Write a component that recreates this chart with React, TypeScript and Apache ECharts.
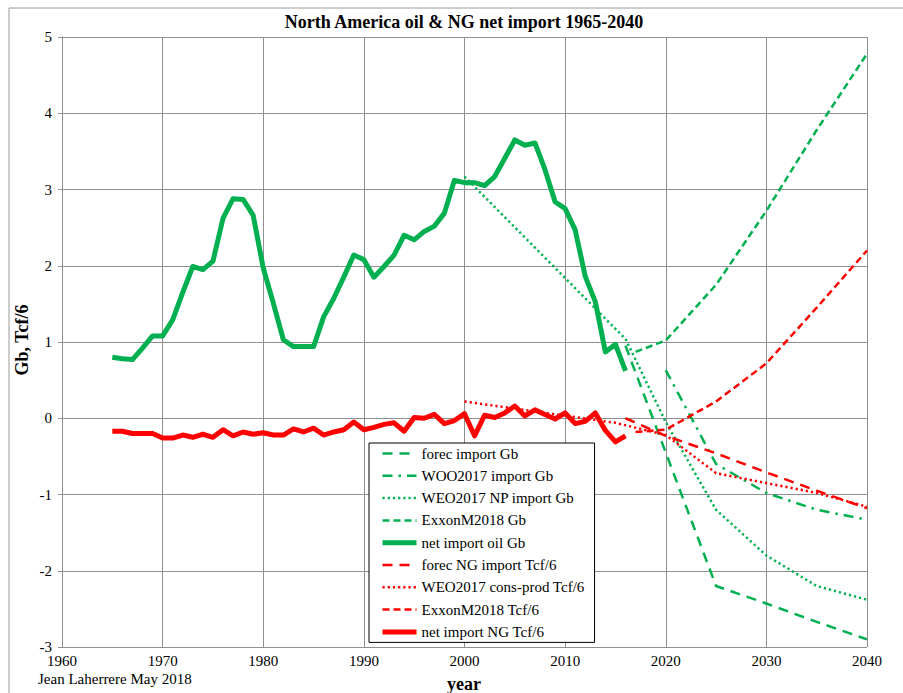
import React, { useEffect, useRef } from "react";
import * as echarts from "echarts";

const histYears = [
  1965, 1966, 1967, 1968, 1969, 1970, 1971, 1972, 1973, 1974, 1975, 1976, 1977,
  1978, 1979, 1980, 1981, 1982, 1983, 1984, 1985, 1986, 1987, 1988, 1989, 1990,
  1991, 1992, 1993, 1994, 1995, 1996, 1997, 1998, 1999, 2000, 2001, 2002, 2003,
  2004, 2005, 2006, 2007, 2008, 2009, 2010, 2011, 2012, 2013, 2014, 2015, 2016,
];
const netOilGb = [
  0.8, 0.78, 0.77, 0.92, 1.08, 1.08, 1.29, 1.65, 1.99, 1.95, 2.06, 2.62, 2.88,
  2.87, 2.66, 1.97, 1.51, 1.03, 0.94, 0.94, 0.94, 1.33, 1.57, 1.85, 2.14, 2.08,
  1.85, 1.99, 2.14, 2.4, 2.34, 2.45, 2.52, 2.69, 3.12, 3.09, 3.09, 3.05, 3.17,
  3.41, 3.65, 3.58, 3.61, 3.26, 2.84, 2.75, 2.47, 1.86, 1.53, 0.87, 0.97, 0.62,
];
const netNgTcf6 = [
  -0.17, -0.17, -0.2, -0.2, -0.2, -0.26, -0.26, -0.22, -0.25, -0.21, -0.25,
  -0.15, -0.23, -0.18, -0.21, -0.19, -0.22, -0.22, -0.14, -0.18, -0.13, -0.22,
  -0.18, -0.15, -0.05, -0.15, -0.12, -0.08, -0.06, -0.17, 0.01, 0.0, 0.05,
  -0.07, -0.03, 0.06, -0.23, 0.04, 0.01, 0.07, 0.16, 0.03, 0.11, 0.05, -0.01,
  0.07, -0.07, -0.04, 0.07, -0.16, -0.31, -0.23,
];

const forecOilYears = [2016, 2025, 2030, 2035, 2040];
const forecOilGb = [0.95, -2.2, -2.43, -2.67, -2.9];
const woo2017Years = [2020, 2025, 2030, 2035, 2040];
const woo2017Gb = [0.63, -0.6, -0.98, -1.2, -1.33];
const weo2017NpYears = [2000, 2016, 2020, 2025, 2030, 2035, 2040];
const weo2017NpGb = [3.17, 1.04, -0.05, -1.2, -1.8, -2.2, -2.38];
const exxonOilYears = [2017, 2020, 2025, 2030, 2035, 2040];
const exxonOilGb = [0.87, 1.02, 1.75, 2.72, 3.78, 4.78];
const forecNgYears = [2016, 2020, 2025, 2030, 2035, 2040];
const forecNgTcf6 = [0.0, -0.23, -0.46, -0.71, -0.95, -1.18];
const weoNgYears = [2000, 2015, 2020, 2025, 2030, 2035, 2040];
const weoNgTcf6 = [0.22, -0.06, -0.22, -0.72, -0.85, -0.98, -1.16];
const exxonNgYears = [2017, 2020, 2025, 2030, 2035, 2040];
const exxonNgTcf6 = [-0.18, -0.15, 0.22, 0.72, 1.45, 2.2];

const GREEN = "#00b050";
const RED = "#ff0000";
const FONT = "'Liberation Serif', 'Times New Roman', serif";

const pairs = (xs: number[], ys: number[]) => xs.map((x, i) => [x, ys[i]]);

type Def = { name: string; xs: number[]; ys: number[]; color: string; width: number; dash: any };
const defs: Def[] = [
  { name: "forec import Gb", xs: forecOilYears, ys: forecOilGb, color: GREEN, width: 2.5, dash: [10, 7] },
  { name: "WOO2017 import Gb", xs: woo2017Years, ys: woo2017Gb, color: GREEN, width: 2.5, dash: [10, 6, 2.5, 6] },
  { name: "WEO2017 NP import Gb", xs: weo2017NpYears, ys: weo2017NpGb, color: GREEN, width: 2.5, dash: [2.2, 3] },
  { name: "ExxonM2018 Gb", xs: exxonOilYears, ys: exxonOilGb, color: GREEN, width: 2.5, dash: [7, 4] },
  { name: "net import oil Gb", xs: histYears, ys: netOilGb, color: GREEN, width: 5, dash: "solid" },
  { name: "forec NG import Tcf/6", xs: forecNgYears, ys: forecNgTcf6, color: RED, width: 2.5, dash: [10, 7] },
  { name: "WEO2017 cons-prod Tcf/6", xs: weoNgYears, ys: weoNgTcf6, color: RED, width: 2.5, dash: [2.2, 3] },
  { name: "ExxonM2018 Tcf/6", xs: exxonNgYears, ys: exxonNgTcf6, color: RED, width: 2.5, dash: [7, 4] },
  { name: "net import NG Tcf/6", xs: histYears, ys: netNgTcf6, color: RED, width: 5, dash: "solid" },
];

export default function App() {
  const ref = useRef<HTMLDivElement>(null);
  useEffect(() => {
    if (!ref.current) return;
    const chart = echarts.init(ref.current, undefined, { renderer: "svg" });
    const gridColor = "#8f8f8f";
    chart.setOption({
      animation: false,
      backgroundColor: "#ffffff",
      textStyle: { fontFamily: FONT },
      grid: { left: 62, top: 37, width: 805, height: 610 },
      xAxis: {
        type: "value",
        min: 1960,
        max: 2040,
        interval: 10,
        axisLine: { show: true, lineStyle: { color: gridColor, width: 1 } },
        axisTick: { show: true, inside: false, length: 4, lineStyle: { color: gridColor } },
        axisLabel: {
          color: "#000",
          fontFamily: FONT,
          fontSize: 15,
          margin: 6,
          formatter: (v: number) => String(v),
        },
        splitLine: { show: true, lineStyle: { color: gridColor, width: 1 } },
      },
      yAxis: {
        type: "value",
        min: -3,
        max: 5,
        interval: 1,
        axisLine: { show: true, lineStyle: { color: gridColor, width: 1 } },
        axisTick: { show: true, inside: false, length: 4, lineStyle: { color: gridColor } },
        axisLabel: { color: "#000", fontFamily: FONT, fontSize: 15, margin: 10 },
        splitLine: { show: true, lineStyle: { color: gridColor, width: 1 } },
      },
      legend: {
        orient: "vertical",
        left: 369,
        top: 443,
        backgroundColor: "#ffffff",
        borderColor: "#000000",
        borderWidth: 1,
        padding: [3, 10, 3, 11],
        itemWidth: 34,
        itemHeight: 14,
        itemGap: 7.3,
        itemStyle: { opacity: 0, borderWidth: 0 },
        textStyle: { color: "#000", fontFamily: FONT, fontSize: 15, lineHeight: 14 },
        data: defs.map((d) => ({
          name: d.name,
          itemStyle: { opacity: 0, borderWidth: 0 },
          lineStyle: { width: d.width, color: d.color, type: d.dash },
        })),
      },
      graphic: [
        {
          type: "rect",
          silent: true,
          shape: { x: 9, y: 8, width: 1000, height: 1000 },
          style: { fill: "none", stroke: "#9a9a9a", lineWidth: 1 },
          z: -10,
        },
        {
          type: "text",
          x: 464,
          y: 22,
          style: {
            text: "North America oil & NG net import 1965-2040",
            font: `bold 18px ${FONT}`,
            fill: "#000",
            textAlign: "center",
            textVerticalAlign: "middle",
          },
        },
        {
          type: "text",
          x: 22,
          y: 340,
          rotation: Math.PI / 2,
          style: {
            text: "Gb, Tcf/6",
            font: `bold 18px ${FONT}`,
            fill: "#000",
            textAlign: "center",
            textVerticalAlign: "middle",
          },
        },
        {
          type: "text",
          x: 464,
          y: 684,
          style: {
            text: "year",
            font: `bold 18px ${FONT}`,
            fill: "#000",
            textAlign: "center",
            textVerticalAlign: "middle",
          },
        },
        {
          type: "text",
          x: 38,
          y: 679,
          style: {
            text: "Jean Laherrere May 2018",
            font: `15px ${FONT}`,
            fill: "#000",
            textAlign: "left",
            textVerticalAlign: "middle",
          },
        },
      ],
      series: defs.map((d) => ({
        name: d.name,
        type: "line",
        data: pairs(d.xs, d.ys),
        showSymbol: false,
        symbol: "none",
        smooth: false,
        lineStyle: { color: d.color, width: d.width, type: d.dash, cap: "butt", join: "round" },
        itemStyle: { color: d.color },
        z: d.width > 3 ? 3 : 2,
      })),
    });
    return () => chart.dispose();
  }, []);
  return (
    <div
      ref={ref}
      style={{ position: "fixed", left: 0, top: 0, width: 903, height: 693 }}
    />
  );
}
